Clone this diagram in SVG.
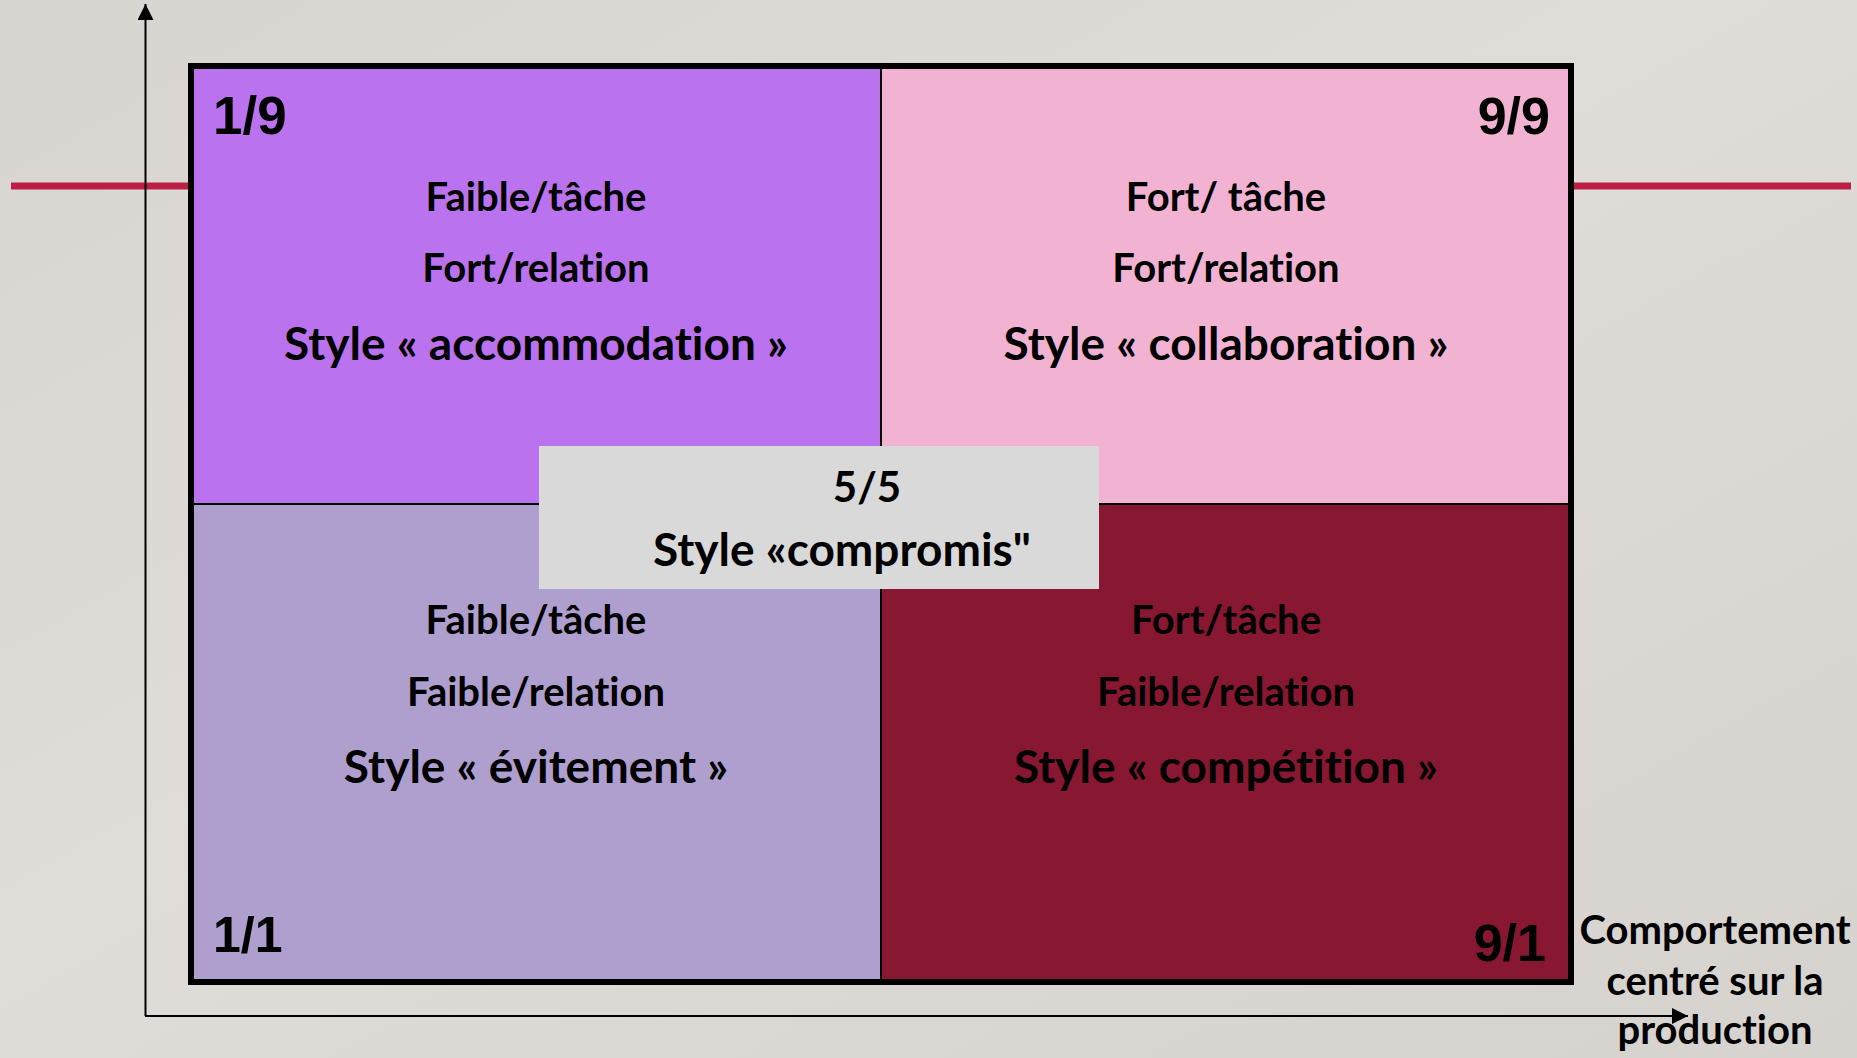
<svg xmlns="http://www.w3.org/2000/svg" width="1857" height="1058" viewBox="0 0 1857 1058">
<defs>
<linearGradient id="bg" x1="0" y1="0" x2="1" y2="1">
<stop offset="0" stop-color="#d8d5d0"/>
<stop offset="0.45" stop-color="#e0ddd8"/>
<stop offset="1" stop-color="#d6d3ce"/>
</linearGradient>
<marker id="arr" viewBox="0 0 16 16" refX="16" refY="8" markerWidth="16" markerHeight="16" orient="auto" markerUnits="userSpaceOnUse">
<path d="M0,0 L16,8 L0,16 z" fill="#000"/>
</marker>
<style>
.t{font-family:Lato,"Open Sans","Liberation Sans",sans-serif;font-weight:bold;fill:#000;text-anchor:middle;font-variant-ligatures:none;font-feature-settings:"liga" 0}
.s{font-size:40px}
.L{font-size:46px}
.n{font-family:"Liberation Sans",Arial,sans-serif;font-weight:bold;fill:#000}
.div{stroke:#000;stroke-width:2}
</style>
</defs>
<rect width="1857" height="1058" fill="url(#bg)"/>
<line x1="11" y1="186" x2="1851" y2="186" stroke="#bc1f45" stroke-width="7"/>
<g id="connectors" fill="none" stroke="#000" stroke-width="2">
<line x1="145.5" y1="1016" x2="145.5" y2="4" marker-end="url(#arr)"/>
<line x1="145" y1="1016" x2="1688" y2="1016" marker-end="url(#arr)"/>
</g>
<g id="q-tl"><rect x="191" y="66" width="690" height="438" fill="#bb72ef"/>
<text class="n" x="213" y="134" font-size="53">1/9</text>
<text class="t s" x="536" y="211">Faible/tâche</text>
<text class="t s" x="536" y="282">Fort/relation</text>
<text class="t L" x="536" y="360">Style « accommodation »</text></g>
<g id="q-tr"><rect x="881" y="66" width="690" height="438" fill="#f2b3d3"/>
<text class="n" x="1550" y="134" font-size="52" text-anchor="end">9/9</text>
<text class="t s" x="1226" y="211">Fort/ tâche</text>
<text class="t s" x="1226" y="282">Fort/relation</text>
<text class="t L" x="1226" y="360">Style « collaboration »</text></g>
<g id="q-bl"><rect x="191" y="504" width="690" height="478" fill="#af9fcf"/>
<text class="n" x="213" y="952" font-size="50">1/1</text>
<text class="t s" x="536" y="634">Faible/tâche</text>
<text class="t s" x="536" y="706">Faible/relation</text>
<text class="t L" x="536" y="783">Style « évitement »</text></g>
<g id="q-br"><rect x="881" y="504" width="690" height="478" fill="#881731"/>
<text class="n" x="1546" y="961" font-size="52" text-anchor="end">9/1</text>
<text class="t s" x="1226" y="634">Fort/tâche</text>
<text class="t s" x="1226" y="706">Faible/relation</text>
<text class="t L" x="1226" y="783">Style « compétition »</text></g>
<line class="div" x1="881" y1="66" x2="881" y2="982"/>
<line class="div" x1="191" y1="504" x2="1571" y2="504"/>
<rect x="191" y="66" width="1380" height="916" fill="none" stroke="#000" stroke-width="6"/>
<g id="center"><rect x="539" y="446" width="560" height="143" fill="#d9d9d9"/>
<text class="t" x="867" y="502" font-size="42">5/5</text>
<text class="t" x="842" y="566" font-size="46">Style «compromis"</text></g>
<g id="axis-label">
<text class="t s" x="1715" y="944">Comportement</text>
<text class="t s" x="1715" y="995">centré sur la</text>
<text class="t s" x="1715" y="1044">production</text></g>
</svg>
